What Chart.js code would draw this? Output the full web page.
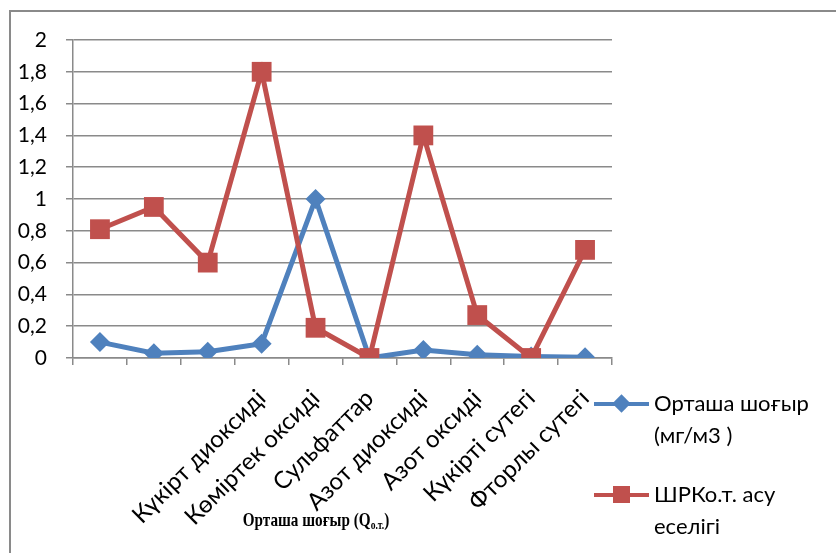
<!DOCTYPE html>
<html>
<head>
<meta charset="utf-8">
<script src="https://cdn.jsdelivr.net/npm/chart.js@4/dist/chart.umd.min.js"></script>
<style>
  html, body { margin: 0; padding: 0; background: #fff; overflow: hidden; }
  #wrap { position: relative; width: 836px; height: 553px; }
  #frame { position: absolute; left: 9px; top: 10px; width: 900px; height: 700px;
           border-top: 2px solid #8a8a8a; border-left: 2px solid #8a8a8a; box-sizing: border-box; }
  canvas { position: absolute; left: 0; top: 0; }
  .leg { position: absolute; font-family: Lato, "Open Sans", sans-serif; font-size: 22px; line-height: 32px; color: #000; }
  .legline { position: absolute; height: 4px; }
  .mk { position: absolute; }
  #xtitle { position: absolute; left: 316px; top: 509px; transform: translateX(-50%) scaleX(0.8);
            font-family: "Liberation Serif", serif; font-weight: bold; font-size: 19px; white-space: nowrap; color: #000; }
  #xtitle sub { font-size: 12px; vertical-align: -3px; }
</style>
</head>
<body>
<div id="wrap">
  <div id="frame"></div>
  <canvas id="c" width="836" height="553"></canvas>
  <div class="legline" style="left:594px; top:402px; width:55px; background:#4F81BD;"></div>
  <div class="mk" style="left:615px; top:397px; width:13px; height:13px; background:#4F81BD; transform:rotate(45deg);"></div>
  <div class="leg" style="left:654px; top:387px;">Орташа шоғыр<br>(мг/м3 )</div>
  <div class="legline" style="left:594px; top:493px; width:55px; background:#C0504D;"></div>
  <div class="mk" style="left:613px; top:486px; width:17px; height:17px; background:#C0504D;"></div>
  <div class="leg" style="left:654px; top:478px;">ШРКо.т. асу<br>еселігі</div>
  <div id="xtitle">Орташа шоғыр (Q<sub>о.т.</sub>)</div>
</div>
<script>
const categories = ['', '', '', 'Күкірт диоксиді', 'Көміртек оксиді', 'Сульфаттар', 'Азот диоксиді', 'Азот оксиді', 'Күкірті сутегі', 'Фторлы сутегі'];
const meanConcentration = [0.1, 0.03, 0.04, 0.09, 1.0, 0, 0.05, 0.02, 0.01, 0.005];
const mpcExceedance = [0.81, 0.95, 0.6, 1.8, 0.19, 0, 1.4, 0.27, 0, 0.68];
const yTickLabels = ['0', '0,2', '0,4', '0,6', '0,8', '1', '1,2', '1,4', '1,6', '1,8', '2'];
const seriesNames = ['Орташа шоғыр (мг/м3 )', 'ШРКо.т. асу еселігі'];

const gridColor = '#8a8a8a';
new Chart(document.getElementById('c'), {
  type: 'line',
  data: {
    labels: categories,
    datasets: [
      { label: seriesNames[0], data: meanConcentration, borderColor: '#4F81BD', backgroundColor: '#4F81BD',
        borderWidth: 5, pointStyle: 'rectRot', pointRadius: 10, pointHoverRadius: 10, pointBorderWidth: 0, tension: 0, order: 1 },
      { label: seriesNames[1], data: mpcExceedance, borderColor: '#C0504D', backgroundColor: '#C0504D',
        borderWidth: 5, pointStyle: 'rect', pointRadius: 14, pointHoverRadius: 14, pointBorderWidth: 0, tension: 0, order: 0 }
    ]
  },
  options: {
    responsive: false,
    animation: false,
    events: [],
    layout: { padding: { left: 0, right: 224, top: 40, bottom: 0 } },
    plugins: { legend: { display: false }, tooltip: { enabled: false }, title: { display: false } },
    scales: {
      x: {
        offset: true,
        grid: { offset: true, drawOnChartArea: false, drawTicks: true, tickLength: 7, color: gridColor, lineWidth: 1.5 },
        border: { color: gridColor, width: 1.5 },
        ticks: { autoSkip: false, minRotation: 45, maxRotation: 45, color: '#000', padding: 19,
                  font: { family: 'Lato', size: 24 } },
        afterFit: s => { s.height = 195; }
      },
      y: {
        min: 0, max: 2,
        grid: { color: gridColor, lineWidth: 1.5, tickLength: 7 },
        border: { color: gridColor, width: 1.5 },
        ticks: { stepSize: 0.2, color: '#000', padding: 19, font: { family: 'Lato', size: 21 },
                 callback: (v, i) => yTickLabels[i] },
        afterFit: s => { s.width = 73; }
      }
    }
  }
});
</script>
</body>
</html>
